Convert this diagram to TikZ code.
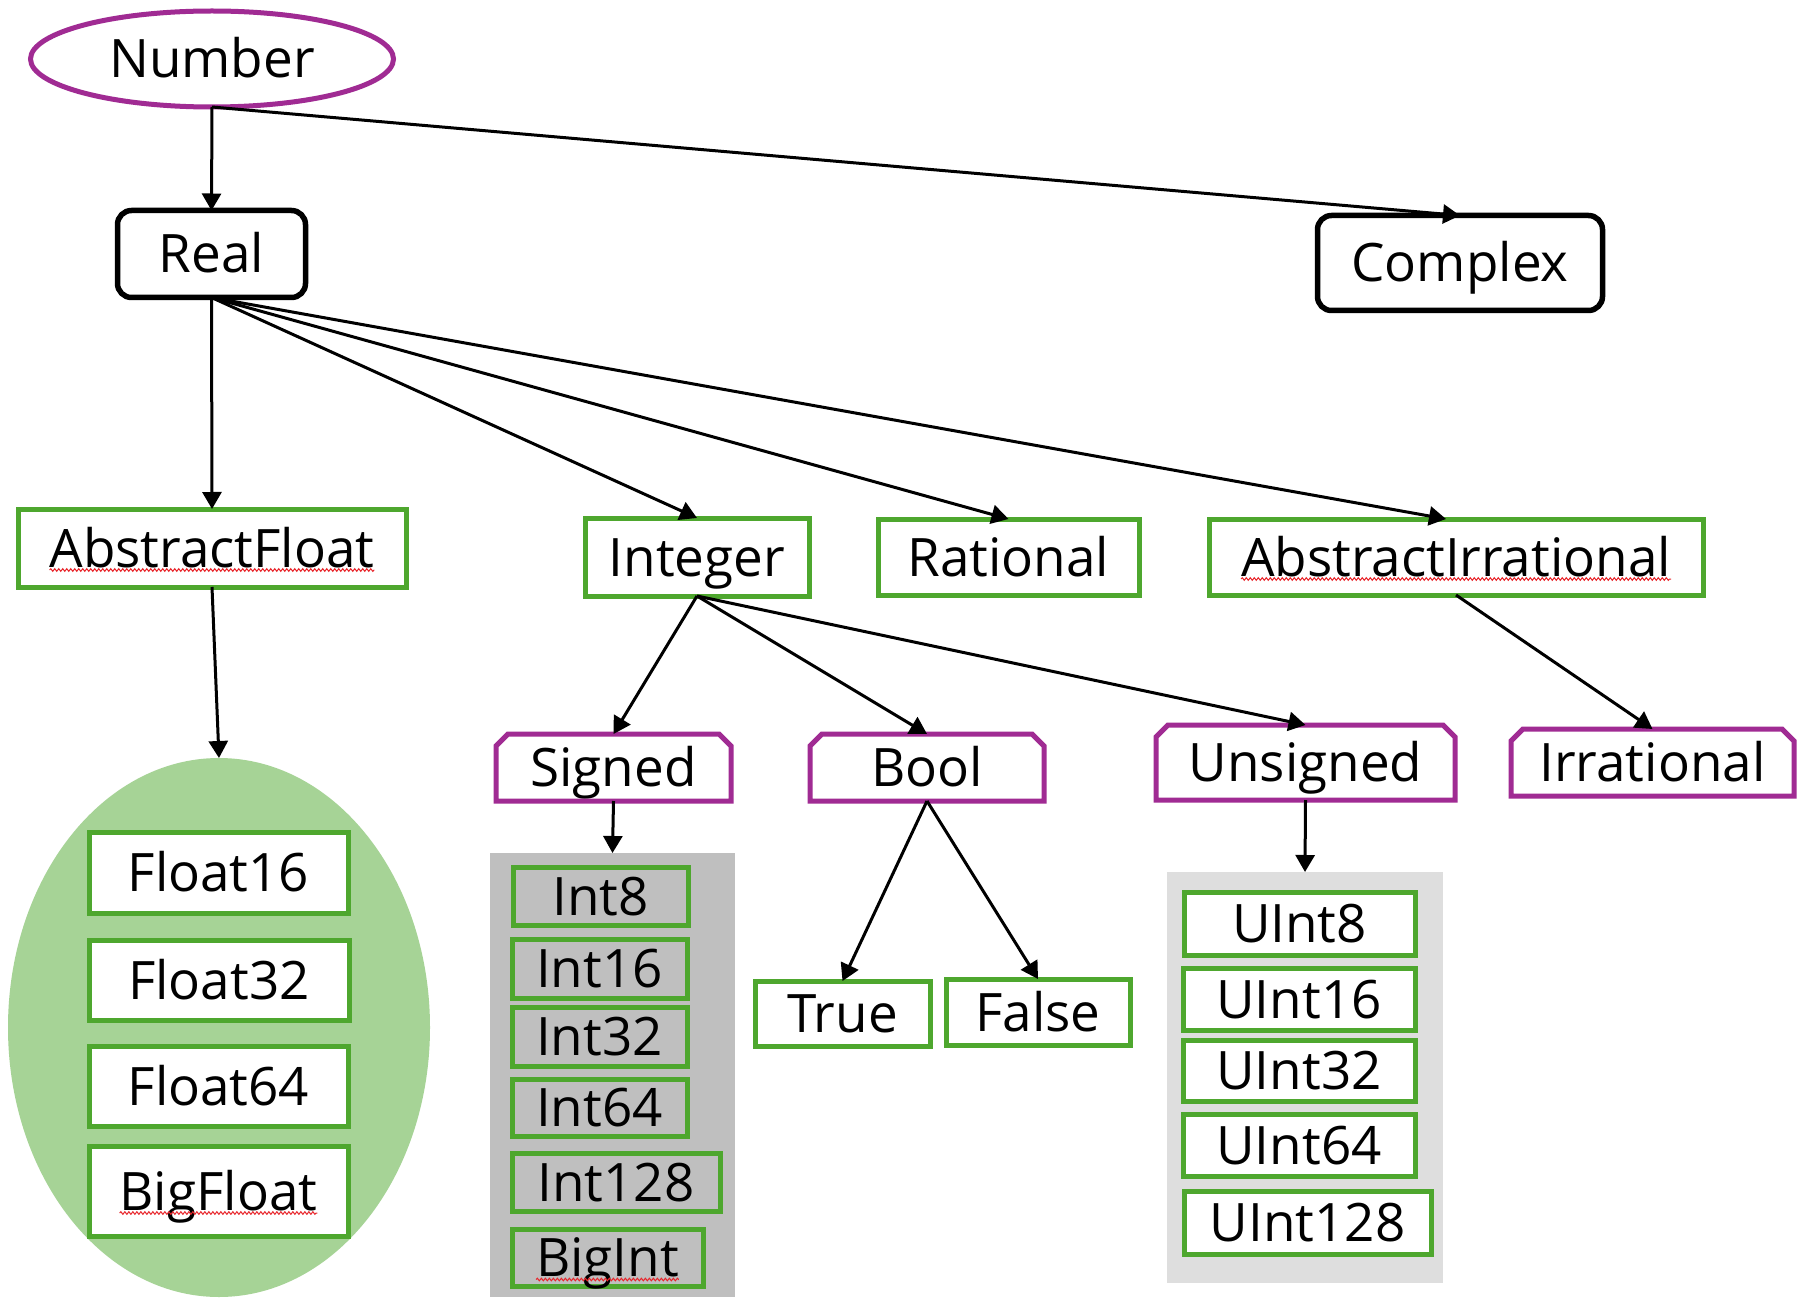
\documentclass[tikz,border=0pt]{standalone}
\usepackage{fontspec}
\setmainfont{Open Sans}
\usetikzlibrary{arrows.meta,shapes.geometric,decorations.pathmorphing}
\definecolor{opurple}{HTML}{A02B93}
\definecolor{ogreen}{HTML}{4EA72E}
\definecolor{lgreen}{HTML}{A6D396}
\definecolor{gdark}{HTML}{BFBFBF}
\definecolor{glight}{HTML}{DEDEDE}
\definecolor{squigred}{HTML}{E8252B}
\newcommand\squig[2]{\pgfmathsetmacro\sqhw{width("#2")/2}%
  \draw[squigline] ([xshift=-\sqhw pt,yshift=-3pt]#1.base) -- ([xshift=\sqhw pt,yshift=-3pt]#1.base);}
\newcommand\chamferit[1]{\draw[pline] ([yshift=-12pt]#1.north west) -- ([xshift=12pt]#1.north west) -- ([xshift=-12pt]#1.north east) -- ([yshift=-12pt]#1.north east) -- (#1.south east) -- (#1.south west) -- cycle;}
\begin{document}
\fontsize{53}{60}\selectfont
\begin{tikzpicture}[x=1pt,y=-1pt,
  every node/.style={inner sep=0pt, outer sep=0pt, text height=38pt, text depth=0pt, font=\fontsize{53}{60}\selectfont},
  conn/.style={line width=3pt, -{Triangle[width=19pt,length=17pt]}},
  blackbox/.style={draw=black, line width=5.5pt, rounded corners=14pt, fill=white, rectangle},
  greenbox/.style={draw=ogreen, line width=5pt, fill=white, rectangle},
  greenclear/.style={draw=ogreen, line width=5pt, rectangle},
  chamfer/.style={rectangle},
  pline/.style={draw=opurple, line width=5pt, line join=miter},
  squigline/.style={draw=squigred, line width=1pt, decorate, decoration={snake, amplitude=1.3pt, segment length=4pt}},
  sz/.style 2 args={minimum width=#1pt, minimum height=#2pt}
]
\useasboundingbox[fill=white] (0,0) rectangle (1811,1305);

% background groups
\node[ellipse, fill=lgreen, sz={422}{539}] (floats) at (219,1027.5) {};
\node[rectangle, fill=gdark, sz={245}{444}] (sgroup) at (612.5,1075) {};
\node[rectangle, fill=glight, sz={276}{411}] (ugroup) at (1305,1077.5) {};

% top levels
\node[ellipse, draw=opurple, line width=5pt, sz={363}{96}] (num) at (212,59) {Number};
\node[blackbox, sz={188}{87}] (real) at (211.5,254) {Real};
\node[blackbox, sz={285}{95}] (complex) at (1460,263) {Complex};

\node[greenbox, sz={388}{78}] (af) at (212,548) {AbstractFloat};
\node[greenbox, sz={224}{78}] (integer) at (697,557) {Integer};
\node[greenbox, sz={261}{76}] (rational) at (1008.5,557) {Rational};
\node[greenbox, sz={494}{76}] (ai) at (1456,557) {AbstractIrrational};

\node[chamfer, sz={235}{67}] (signed) at (613.5,767.5) {Signed};
\node[chamfer, sz={234}{67}] (bool) at (927,767.5) {Bool};
\node[chamfer, sz={299}{75}] (unsigned) at (1305.5,762.5) {Unsigned};
\node[chamfer, sz={283}{67}] (irrational) at (1652.5,762.5) {Irrational};
\chamferit{signed}
\chamferit{bool}
\chamferit{unsigned}
\chamferit{irrational}

% floats
\node[greenbox, sz={259}{81}] (f16) at (218.5,872.5) {Float16};
\node[greenbox, sz={260}{80}] (f32) at (219,980) {Float32};
\node[greenbox, sz={259}{80}] (f64) at (218.5,1086) {Float64};
\node[greenbox, sz={259}{90}] (bigfloat) at (218.5,1191) {BigFloat};

% signed ints
\node[greenclear, sz={175}{58}] (i8) at (600.5,896) {Int8};
\node[greenclear, sz={175}{59}] (i16) at (599.5,968.5) {Int16};
\node[greenclear, sz={175}{59}] (i32) at (599.5,1036.5) {Int32};
\node[greenclear, sz={175}{57}] (i64) at (599.5,1107.5) {Int64};
\node[greenclear, sz={208}{58}] (i128) at (616,1182) {Int128};
\node[greenclear, sz={191}{57}] (bigint) at (607.5,1257.5) {BigInt};

% unsigned ints
\node[greenbox, sz={231}{63}] (u8) at (1299.5,923.5) {UInt8};
\node[greenbox, sz={232}{62}] (u16) at (1299,999) {UInt16};
\node[greenbox, sz={232}{61}] (u32) at (1299,1070.5) {UInt32};
\node[greenbox, sz={232}{62}] (u64) at (1299,1145) {UInt64};
\node[greenbox, sz={247}{63}] (u128) at (1307.5,1222.5) {UInt128};

% bool values
\node[greenbox, sz={175}{65}] (true) at (842.5,1013.5) {True};
\node[greenbox, sz={184}{66}] (false) at (1038,1012) {False};

% spell-check squiggles
\squig{af}{AbstractFloat}
\squig{ai}{AbstractIrrational}
\squig{bigfloat}{BigFloat}
\squig{bigint}{BigInt}

% connectors
\draw[conn] (num.south) -- (real.north);
\draw[conn] (num.south) -- (complex.north);
\draw[conn] (real.south) -- (af.north);
\draw[conn] (real.south) -- (integer.north);
\draw[conn] (real.south) -- (rational.north);
\draw[conn] (real.south) -- ([xshift=-10pt]ai.north);
\draw[conn] (af.south) -- (floats.north);
\draw[conn] (integer.south) -- (signed.north);
\draw[conn] (integer.south) -- (bool.north);
\draw[conn] (integer.south) -- (unsigned.north);
\draw[conn] (ai.south) -- (irrational.north);
\draw[conn] (signed.south) -- (sgroup.north);
\draw[conn] (unsigned.south) -- (ugroup.north);
\draw[conn] (bool.south) -- (true.north);
\draw[conn] (bool.south) -- (false.north);
\end{tikzpicture}
\end{document}
